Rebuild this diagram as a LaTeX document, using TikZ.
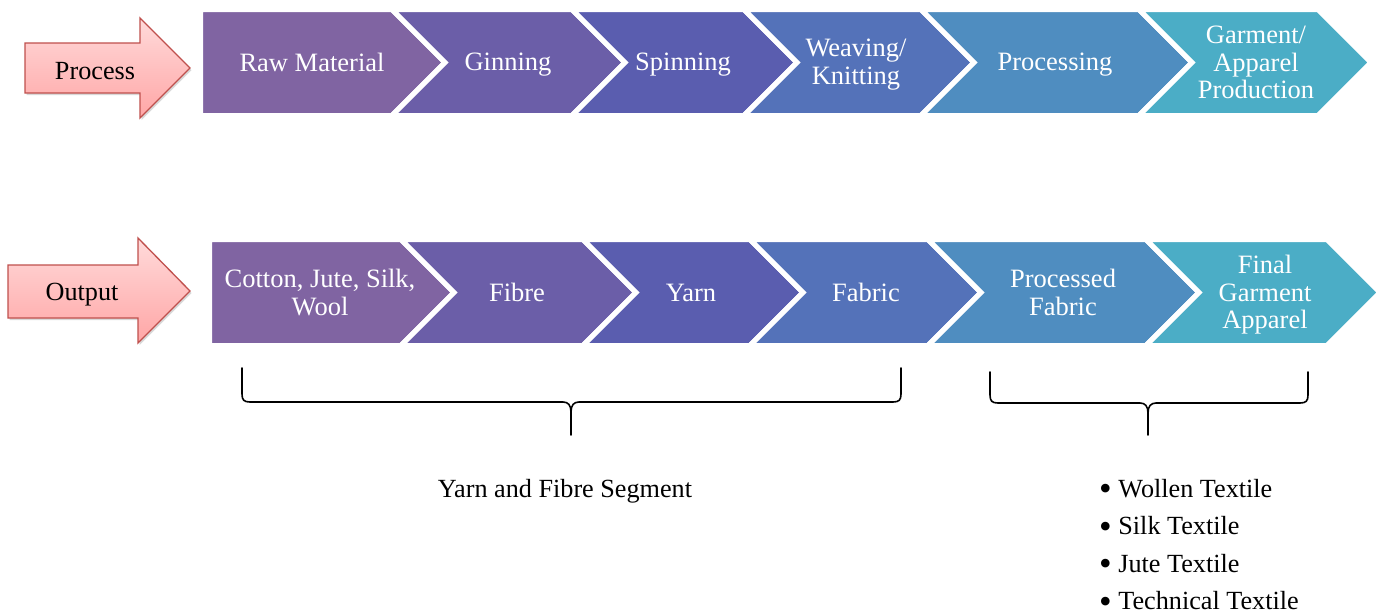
\documentclass[tikz,border=0pt]{standalone}
\usepackage{fontspec}
\setmainfont{Liberation Serif}
\usetikzlibrary{shadows}
\definecolor{cA}{HTML}{8064A2}
\definecolor{cB}{HTML}{6B5EA8}
\definecolor{cC}{HTML}{5A5DAF}
\definecolor{cD}{HTML}{5472B9}
\definecolor{cE}{HTML}{4F8DC0}
\definecolor{cF}{HTML}{4BADC6}
\definecolor{arrowedge}{HTML}{C0504D}
\definecolor{pinktop}{HTML}{FFDADA}
\definecolor{pinkbot}{HTML}{FFA6A6}
\newcommand\sst{\rule[-0.185em]{0pt}{0.845em}}
\newcommand\bul{\raisebox{-3.5pt}{\fontsize{36}{36}\selectfont\textbullet}\ }
\begin{document}
\begin{tikzpicture}[x=1pt,y=-1pt,
  chevfill/.style={fill=#1, draw=white, line width=5pt, line join=miter},
  chevtext/.style={text=white, font=\fontsize{26.5}{27.5}\selectfont, align=center, inner sep=0pt},
  blacktext/.style={text=black, font=\fontsize{26.2}{27.5}\selectfont, align=center, inner sep=0pt},
  pinkarrow/.style={top color=pinktop, bottom color=pinkbot, draw=arrowedge, line width=1.3pt, line join=miter, drop shadow={opacity=0.3, shadow xshift=1.5pt, shadow yshift=-2pt}},
  bracket/.style={draw=black, line width=1.6pt, line cap=round}
]
\useasboundingbox[fill=white] (0,0) rectangle (1386,611);

% Pink arrows
\path[pinkarrow] (25,43) -- (140,43) -- (140,18) -- (190,68) -- (140,118) -- (140,93) -- (25,93) -- cycle;
\node[blacktext] (process) at (95,73.5) {\sst Process};
\path[pinkarrow] (8,265) -- (138,265) -- (138,238) -- (190,291) -- (138,343) -- (138,318) -- (8,318) -- cycle;
\node[blacktext] (output) at (82,294.5) {\sst Output};

% Top row chevrons
\path[chevfill=cA] (200.5,9.5) -- (392,9.5) -- (445,62.5) -- (392,115.5) -- (200.5,115.5) -- cycle;
\path[chevfill=cB] (392,9.5) -- (572,9.5) -- (625,62.5) -- (572,115.5) -- (392,115.5) -- (445,62.5) -- cycle;
\path[chevfill=cC] (572,9.5) -- (744,9.5) -- (797,62.5) -- (744,115.5) -- (572,115.5) -- (625,62.5) -- cycle;
\path[chevfill=cD] (744,9.5) -- (921,9.5) -- (974,62.5) -- (921,115.5) -- (744,115.5) -- (797,62.5) -- cycle;
\path[chevfill=cE] (921,9.5) -- (1139,9.5) -- (1192,62.5) -- (1139,115.5) -- (921,115.5) -- (974,62.5) -- cycle;
\path[chevfill=cF] (1139,9.5) -- (1318,9.5) -- (1371,62.5) -- (1318,115.5) -- (1139,115.5) -- (1192,62.5) -- cycle;

\node[chevtext] (raw) at (312,64.8) {\sst Raw Material};
\node[chevtext] (gin) at (508,64.8) {\sst Ginning};
\node[chevtext] (spin) at (683,64.8) {\sst Spinning};
\node[chevtext] (weave) at (856,64.8) {\sst Weaving/\\\sst Knitting};
\node[chevtext] (proc) at (1055,64.8) {\sst Processing};
\node[chevtext] (garm) at (1256,64.8) {\sst Garment/\\\sst Apparel\\\sst Production};

% Bottom row chevrons
\path[chevfill=cA] (209.5,239.5) -- (401,239.5) -- (454,292.5) -- (401,345.5) -- (209.5,345.5) -- cycle;
\path[chevfill=cB] (401,239.5) -- (583,239.5) -- (636,292.5) -- (583,345.5) -- (401,345.5) -- (454,292.5) -- cycle;
\path[chevfill=cC] (583,239.5) -- (750,239.5) -- (803,292.5) -- (750,345.5) -- (583,345.5) -- (636,292.5) -- cycle;
\path[chevfill=cD] (750,239.5) -- (928,239.5) -- (981,292.5) -- (928,345.5) -- (750,345.5) -- (803,292.5) -- cycle;
\path[chevfill=cE] (928,239.5) -- (1146,239.5) -- (1199,292.5) -- (1146,345.5) -- (928,345.5) -- (981,292.5) -- cycle;
\path[chevfill=cF] (1146,239.5) -- (1327,239.5) -- (1380,292.5) -- (1327,345.5) -- (1146,345.5) -- (1199,292.5) -- cycle;

\node[chevtext] (cotton) at (320,294.8) {\sst Cotton, Jute, Silk,\\\sst Wool};
\node[chevtext] (fibre) at (517,294.8) {\sst Fibre};
\node[chevtext] (yarn) at (691,294.8) {\sst Yarn};
\node[chevtext] (fabric) at (866,294.8) {\sst Fabric};
\node[chevtext] (pfabric) at (1063,294.8) {\sst Processed\\\sst Fabric};
\node[chevtext] (final) at (1265,294.8) {\sst Final\\\sst Garment\\\sst Apparel};

% Braces
\draw[bracket] (242,368) -- (242,394) .. controls (242,400) and (244,402) .. (250,402) -- (563,402) .. controls (568,402) and (571,405) .. (571,412) -- (571,435);
\draw[bracket] (901,368) -- (901,394) .. controls (901,400) and (899,402) .. (893,402) -- (579,402) .. controls (574,402) and (571,405) .. (571,412);
\draw[bracket] (990,372) -- (990,395) .. controls (990,401) and (992,403) .. (998,403) -- (1140,403) .. controls (1145,403) and (1148,406) .. (1148,413) -- (1148,435);
\draw[bracket] (1308,372) -- (1308,395) .. controls (1308,401) and (1306,403) .. (1300,403) -- (1156,403) .. controls (1151,403) and (1148,406) .. (1148,413);

% Labels below braces
\node[blacktext] (segment) at (565,491) {\sst Yarn and Fibre Segment};
\node[text=black, font=\fontsize{26.2}{37.5}\selectfont, align=left, inner sep=0pt, anchor=west] (list) at (1099,547)
  {\sst\bul Wollen Textile\\\sst\bul Silk Textile\\\sst\bul Jute Textile\\\sst\bul Technical Textile};
\end{tikzpicture}
\end{document}
